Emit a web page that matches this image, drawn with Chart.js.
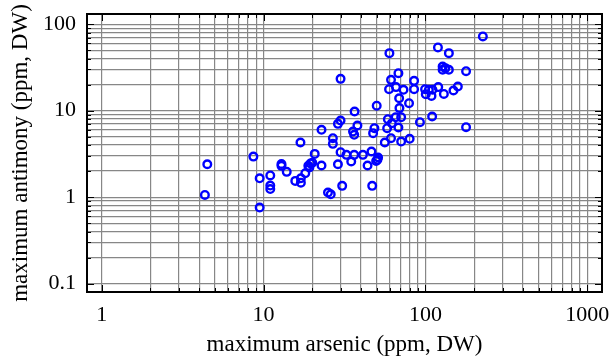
<!DOCTYPE html>
<html>
<head>
<meta charset="utf-8">
<script src="https://cdn.jsdelivr.net/npm/chart.js@4/dist/chart.umd.min.js"></script>
<style>
  html, body { margin: 0; padding: 0; background: #fff; }
  #wrap { width: 612px; height: 357px; }
</style>
</head>
<body>
<div id="wrap"><canvas id="scatter"></canvas></div>
<script>
// maximum arsenic (x) vs maximum antimony (y), ppm dry weight
const arsenic = [
  4.34, 4.49, 8.65, 9.46, 9.46, 11.0, 11.0, 11.0, 12.9, 12.9,
  13.9, 15.7, 16.9, 17.0, 17.0, 18.1, 18.9, 19.5, 20.0, 19.2,
  20.7, 22.8, 22.8, 25.0, 26.0, 26.8, 26.8, 28.8, 29.9, 28.8,
  29.9, 29.9, 30.6, 32.5, 34.8, 35.7, 36.3, 36.5, 36.3, 38.0,
  41.1, 43.9, 46.4, 46.9, 47.5, 48.4, 49.6, 50.0, 51.0, 50.5,
  56.1, 58.0, 58.6, 59.9, 59.6, 61.3, 61.3, 62.0, 65.5, 65.8,
  68.1, 68.1, 68.8, 69.1, 70.8, 70.8, 73.2, 79.2, 79.9, 85.1,
  85.1, 92.5, 99.5, 100.5, 105, 109, 110, 110.5, 119.5, 120,
  127.7, 127.7, 130, 132.8, 139.6, 139.6, 149, 158.6, 178.3, 178.3,
  226.4
];
const antimony = [
  1.06, 2.40, 2.94, 1.65, 0.757, 1.78, 1.36, 1.24, 2.42, 2.30,
  1.96, 1.54, 4.28, 1.47, 1.65, 1.89, 2.30, 2.45, 2.50, 2.20,
  3.16, 6.0, 2.32, 1.13, 1.08, 4.80, 4.13, 7.03, 7.69, 2.40,
  23.3, 3.31, 1.35, 3.08, 2.58, 5.73, 5.25, 9.77, 3.08, 6.73,
  3.08, 2.32, 3.37, 1.35, 5.49, 6.27, 2.62, 11.4, 2.87, 2.70,
  4.28, 6.27, 7.96, 46.2, 17.7, 22.7, 4.80, 7.16, 8.4, 18.7,
  27.1, 6.38, 13.9, 10.7, 8.4, 4.39, 17.4, 12.2, 4.72, 22.1,
  17.7, 7.35, 17.7, 15.5, 17.4, 14.8, 8.55, 17.4, 53.8, 18.7,
  32.4, 29.7, 15.6, 31.0, 46.2, 29.7, 17.1, 19.0, 28.6, 6.44,
  72.1
];

const xDecades = [1, 10, 100];
const yDecades = [0.1, 1, 10];
const xTickLabels = ['1', '10', '100', '1000'];
const yTickLabels = ['0.1', '1', '10', '100'];
const xMajor = [1, 10, 100, 1000];
const yMajor = [0.1, 1, 10, 100];

function gridValues(decades, last) {
  const out = [];
  decades.forEach(d => {
    for (let k = 1; k <= 9; k++) out.push(+(d * k).toPrecision(3));
  });
  out.push(last);
  return out;
}
const xGrid = gridValues(xDecades, 1000);
const yGrid = gridValues(yDecades, 100);

const points = arsenic.map((v, i) => ({ x: v, y: antimony[i] }));
const serif = 'Liberation Serif, Times New Roman, serif';

// frame plus small inward tick marks on all four sides
const framePlugin = {
  id: 'frame',
  afterDraw(chart) {
    const { ctx, chartArea: a, scales } = chart;
    ctx.save();
    ctx.strokeStyle = '#000';
    ctx.lineWidth = 1;
    xGrid.forEach(v => {
      const px = Math.round(scales.x.getPixelForValue(v)) + 0.5;
      const len = xMajor.includes(v) ? 7 : 4;
      ctx.beginPath();
      ctx.moveTo(px, a.bottom); ctx.lineTo(px, a.bottom - len);
      ctx.moveTo(px, a.top); ctx.lineTo(px, a.top + len);
      ctx.stroke();
    });
    yGrid.forEach(v => {
      const py = Math.round(scales.y.getPixelForValue(v)) + 0.5;
      const len = yMajor.includes(v) ? 7 : 4;
      ctx.beginPath();
      ctx.moveTo(a.left, py); ctx.lineTo(a.left + len, py);
      ctx.moveTo(a.right, py); ctx.lineTo(a.right - len, py);
      ctx.stroke();
    });
    ctx.lineWidth = 2;
    ctx.strokeRect(a.left, a.top, a.right - a.left, a.bottom - a.top);
    ctx.restore();
  }
};

new Chart(document.getElementById('scatter'), {
  type: 'scatter',
  data: {
    datasets: [{
      data: points,
      pointStyle: 'circle',
      pointRadius: 3.8,
      pointHoverRadius: 3.8,
      borderWidth: 2.4,
      borderColor: '#0000ff',
      backgroundColor: 'rgba(0,0,0,0)'
    }]
  },
  options: {
    responsive: true,
    maintainAspectRatio: false,
    animation: false,
    layout: { padding: { top: 14, right: 10, left: 0, bottom: 0 } },
    plugins: { legend: { display: false }, tooltip: { enabled: false } },
    scales: {
      x: {
        type: 'logarithmic',
        min: 0.811,
        max: 1233,
        afterBuildTicks: s => { s.ticks = xGrid.map(v => ({ value: v })); },
        afterFit: s => { s.height = 65; s.paddingLeft = 0; s.paddingRight = 0; },
        grid: { color: '#878787', lineWidth: 1.2, drawTicks: false },
        border: { display: false },
        ticks: {
          autoSkip: false,
          maxRotation: 0,
          padding: 10,
          color: '#000',
          font: { family: serif, size: 22 },
          callback: v => {
            const i = xMajor.indexOf(v);
            return i >= 0 ? xTickLabels[i] : '';
          }
        },
        title: {
          display: true,
          text: 'maximum arsenic (ppm, DW)',
          color: '#000',
          font: { family: serif, size: 23, lineHeight: 1 },
          padding: { top: 0, bottom: 1 }
        }
      },
      y: {
        type: 'logarithmic',
        min: 0.08,
        max: 131,
        afterBuildTicks: s => { s.ticks = yGrid.map(v => ({ value: v })); },
        afterFit: s => { s.width = 87; s.paddingTop = 0; s.paddingBottom = 0; },
        grid: { color: '#878787', lineWidth: 1.2, drawTicks: false },
        border: { display: false },
        ticks: {
          autoSkip: false,
          padding: 11,
          color: '#000',
          font: { family: serif, size: 22 },
          callback: v => {
            const i = yMajor.indexOf(v);
            return i >= 0 ? yTickLabels[i] : '';
          }
        },
        title: {
          display: true,
          text: 'maximum antimony (ppm, DW)',
          color: '#000',
          font: { family: serif, size: 23, lineHeight: 1 },
          padding: { top: 9, bottom: 0 }
        }
      }
    }
  },
  plugins: [framePlugin]
});
</script>
</body>
</html>
